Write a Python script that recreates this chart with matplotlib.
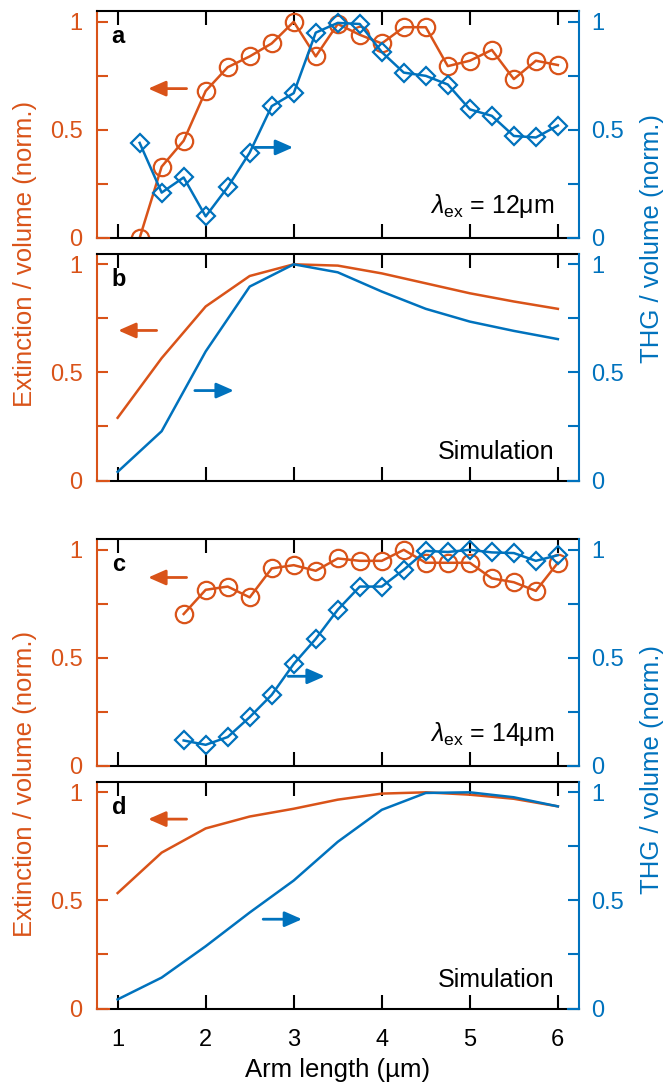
import matplotlib
matplotlib.use("Agg")
import matplotlib.pyplot as plt
from matplotlib.lines import Line2D

plt.rcParams['font.family'] = ['Liberation Sans', 'DejaVu Sans']
plt.rcParams['mathtext.fontset'] = 'custom'
plt.rcParams['mathtext.rm'] = 'Liberation Sans'
plt.rcParams['mathtext.it'] = 'Liberation Sans:italic'

ORANGE = '#D95319'
BLUE = '#0072BD'

# ---------------- data ----------------
x_exp_a = [1.25, 1.5, 1.75, 2.0, 2.25, 2.5, 2.75, 3.0, 3.25, 3.5, 3.75, 4.0,
           4.25, 4.5, 4.75, 5.0, 5.25, 5.5, 5.75, 6.0]
ext_a = [0.0, 0.33, 0.45, 0.68, 0.79, 0.84, 0.90, 1.0, 0.84, 0.99, 0.94, 0.90,
         0.975, 0.975, 0.795, 0.82, 0.87, 0.735, 0.82, 0.80]
thg_a = [0.44, 0.21, 0.28, 0.10, 0.235, 0.395, 0.61, 0.67, 0.95, 0.995, 0.99, 0.86,
         0.765, 0.75, 0.71, 0.595, 0.565, 0.472, 0.465, 0.52]

x_sim = [1.0, 1.5, 2.0, 2.5, 3.0, 3.5, 4.0, 4.5, 5.0, 5.5, 6.0]
ext_b = [0.29, 0.566, 0.805, 0.946, 1.0, 0.994, 0.958, 0.912, 0.866, 0.828, 0.794]
thg_b = [0.04, 0.228, 0.597, 0.897, 1.0, 0.963, 0.874, 0.794, 0.735, 0.692, 0.654]

x_exp_c = [1.75, 2.0, 2.25, 2.5, 2.75, 3.0, 3.25, 3.5, 3.75, 4.0, 4.25, 4.5,
           4.75, 5.0, 5.25, 5.5, 5.75, 6.0]
ext_c = [0.703, 0.815, 0.83, 0.78, 0.914, 0.929, 0.903, 0.96, 0.949, 0.949, 1.0, 0.94,
         0.94, 0.94, 0.868, 0.85, 0.81, 0.94]
thg_c = [0.118, 0.098, 0.134, 0.226, 0.329, 0.472, 0.588, 0.723, 0.83, 0.83, 0.908, 0.995,
         0.99, 1.0, 0.988, 0.985, 0.949, 0.975]

ext_d = [0.534, 0.721, 0.833, 0.888, 0.924, 0.966, 0.994, 1.0, 0.989, 0.97, 0.935]
thg_d = [0.042, 0.143, 0.288, 0.444, 0.592, 0.771, 0.919, 0.997, 1.0, 0.977, 0.935]

# arrows: (tail_x, head_x, y)
arrows_ext = {'a': (1.783, 1.347, 0.691), 'b': (1.443, 1.007, 0.694),
              'c': (1.783, 1.347, 0.872), 'd': (1.783, 1.347, 0.876)}
arrows_thg = {'a': (2.559, 2.993, 0.419), 'b': (1.877, 2.320, 0.416),
              'c': (2.937, 3.353, 0.415), 'd': (2.653, 3.095, 0.413)}

panel_labels = ['a', 'b', 'c', 'd']
corner_texts = [r'$\lambda_{\mathrm{ex}}$ = 12μm', 'Simulation',
                r'$\lambda_{\mathrm{ex}}$ = 14μm', 'Simulation']
x_ticks = [1, 2, 3, 4, 5, 6]
y_ticks = [0, 0.5, 1]
y_ticklabels = ['0', '0.5', '1']
y_minor = [0.25, 0.75]

# ---------------- layout ----------------
W, H = 665, 1085
fig = plt.figure(figsize=(W / 100, H / 100), dpi=100)

left = 96.5 / W
width = (579 - 96.5) / W
bottoms = [1 - 238 / H, 1 - 480.5 / H, 1 - 766 / H, 1 - 1008.5 / H]
height = 227 / H

TICKFS = 17
LW = 1.8
SPW = 1.5

series = [
    (x_exp_a, ext_a, x_exp_a, thg_a, True),
    (x_sim, ext_b, x_sim, thg_b, False),
    (x_exp_c, ext_c, x_exp_c, thg_c, True),
    (x_sim, ext_d, x_sim, thg_d, False),
]

for i, (xe, ye, xt, yt, markers) in enumerate(series):
    ax = fig.add_axes([left, bottoms[i], width, height])
    ax2 = ax.twinx()
    lab = panel_labels[i]
    if markers:
        ax.plot(xe, ye, '-', color=ORANGE, lw=LW, marker='o', ms=12.5,
                mfc='none', mec=ORANGE, mew=1.6)
        ax2.plot(xt, yt, '-', color=BLUE, lw=LW, marker='D', ms=9.5,
                 mfc='none', mec=BLUE, mew=1.6)
    else:
        ax.plot(xe, ye, '-', color=ORANGE, lw=LW)
        ax2.plot(xt, yt, '-', color=BLUE, lw=LW)

    for a in (ax, ax2):
        a.set_xlim(0.76, 6.24)
        a.set_ylim(0, 1.05)
    ax.set_xticks(x_ticks)
    ax.set_yticks(y_ticks)
    ax.set_yticklabels(y_ticklabels)
    ax.set_yticks(y_minor, minor=True)
    ax2.set_yticks(y_ticks)
    ax2.set_yticklabels(y_ticklabels)
    ax2.set_yticks(y_minor, minor=True)

    ax.tick_params(axis='x', which='both', direction='in', top=True, bottom=True,
                   length=10, width=SPW, color='black', labelsize=TICKFS, pad=15,
                   labelbottom=(i == 3))
    ax.tick_params(axis='y', which='both', direction='in', length=8, width=SPW,
                   color=ORANGE, labelcolor=ORANGE, labelsize=TICKFS, pad=10)
    ax2.tick_params(axis='y', which='both', direction='in', length=8, width=SPW,
                    color=BLUE, labelcolor=BLUE, labelsize=TICKFS, pad=9)
    ax2.tick_params(axis='x', which='both', top=False, bottom=False,
                    labelbottom=False)

    ax.spines['left'].set_color(ORANGE)
    ax.spines['right'].set_visible(False)
    for s in ('left', 'top', 'bottom'):
        ax2.spines[s].set_visible(False)
    ax2.spines['right'].set_color(BLUE)
    for s in ax.spines.values():
        s.set_linewidth(SPW)
    ax2.spines['right'].set_linewidth(SPW)

    # coloured corner stubs on the bottom axis line
    ax2.add_line(Line2D([0, 12.5 / 482.5], [0, 0], transform=ax2.transAxes,
                        color=ORANGE, lw=SPW, clip_on=False, zorder=10))
    ax2.add_line(Line2D([1 - 11 / 482.5, 1], [0, 0], transform=ax2.transAxes,
                        color=BLUE, lw=SPW, clip_on=False, zorder=10))

    # arrows
    style = '-|>,head_length=0.5,head_width=0.22'
    tx, hx, yy = arrows_ext[lab]
    ax.annotate('', xy=(hx, yy), xytext=(tx, yy),
                arrowprops=dict(arrowstyle=style, color=ORANGE, lw=2,
                                mutation_scale=21, shrinkA=0, shrinkB=0))
    tx, hx, yy = arrows_thg[lab]
    ax2.annotate('', xy=(hx, yy), xytext=(tx, yy),
                 arrowprops=dict(arrowstyle=style, color=BLUE, lw=2,
                                 mutation_scale=21, shrinkA=0, shrinkB=0))

    ax2.text(0.0315, 0.858, lab, transform=ax2.transAxes, fontsize=17,
             fontweight='bold', ha='left', va='baseline', color='black')
    ty = 0.108 if markers else 0.093
    ax2.text(0.950, ty, corner_texts[i], transform=ax2.transAxes, fontsize=18,
             ha='right', va='baseline', color='black')

# axis labels
for cy in (254, 784):
    fig.text(25 / W, 1 - cy / H, 'Extinction / volume (norm.)', rotation=90,
             ha='center', va='center', fontsize=18.5, color=ORANGE)
for cy in (238.5, 769):
    fig.text(652 / W, 1 - cy / H, 'THG / volume (norm.)', rotation=90,
             ha='center', va='center', fontsize=18.5, color=BLUE)
fig.text(337.7 / W, 1 - 1076.7 / H, 'Arm length (µm)', ha='center',
         va='baseline', fontsize=18.5, color='black')

fig.savefig('out.png', dpi=100)
